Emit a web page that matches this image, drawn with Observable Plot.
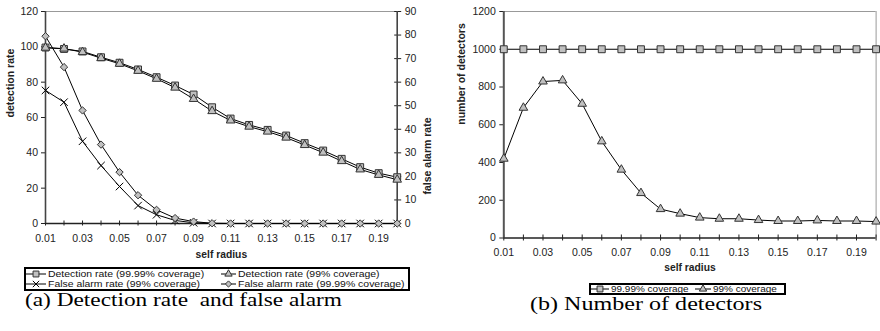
<!DOCTYPE html>
<html>
<head>
<meta charset="utf-8">
<script src="https://cdn.jsdelivr.net/npm/d3@7"></script>
<script src="https://cdn.jsdelivr.net/npm/@observablehq/plot@0.6"></script>
<style>
  html, body { margin: 0; padding: 0; background: #fff; }
  #root { position: relative; width: 880px; height: 331px; overflow: hidden; font-family: "Liberation Sans", Arial, Helvetica, sans-serif; }
  .chart { position: absolute; top: 0; }
  .legend { position: absolute; border: 2px solid #000; background: #fff; box-sizing: border-box; color: #111; }
  .legend .item { position: absolute; display: flex; align-items: center; white-space: nowrap; }
  .legend svg { display: block; margin-right: 1.5px; overflow: visible; }
  .legend span { display: block; transform-origin: 0 50%; }
  .caption { position: absolute; font-family: "Liberation Serif", "Times New Roman", serif; font-size: 19.5px; line-height: 19.5px; white-space: pre; color: #000; transform-origin: 0 50%; }
  svg text { fill: #222; }
</style>
</head>
<body>
<div id="root"></div>
<script>
// ---------------- data ----------------
const radius = [0.01, 0.02, 0.03, 0.04, 0.05, 0.06, 0.07, 0.08, 0.09, 0.10,
                0.11, 0.12, 0.13, 0.14, 0.15, 0.16, 0.17, 0.18, 0.19, 0.20];
const xTickLabels = [0.01, 0.03, 0.05, 0.07, 0.09, 0.11, 0.13, 0.15, 0.17, 0.19];

// (a) detection rate (left axis, %) and false alarm rate (right axis, %)
const detectionRate9999 = [99.6, 98.8, 97.4, 94.1, 91.0, 87.2, 82.8, 78.1, 73.0, 65.8,
                           59.4, 55.8, 53.0, 49.8, 45.5, 41.3, 36.6, 31.9, 28.5, 26.2];
const detectionRate99   = [99.5, 99.0, 97.0, 93.6, 90.4, 86.4, 81.9, 76.9, 70.5, 63.6,
                           58.3, 54.8, 52.0, 48.6, 44.4, 40.1, 35.3, 30.6, 27.5, 24.8];
const falseAlarm99      = [56.5, 51.5, 34.9, 24.6, 15.7, 7.6, 3.7, 1.3, 0.3, 0,
                           0, 0, 0, 0, 0, 0, 0, 0, 0, 0];
const falseAlarm9999    = [79.5, 66.4, 48.0, 33.5, 21.8, 12.0, 5.8, 2.3, 0.8, 0.1,
                           0, 0, 0, 0, 0, 0, 0, 0, 0, 0];
const detectionTicks = [0, 20, 40, 60, 80, 100, 120];
const alarmTicks = [0, 10, 20, 30, 40, 50, 60, 70, 80, 90];

// (b) number of detectors
const detectors9999 = [1000, 1000, 1000, 1000, 1000, 1000, 1000, 1000, 1000, 1000,
                       1000, 1000, 1000, 1000, 1000, 1000, 1000, 1000, 1000, 1000];
const detectors99   = [420, 690, 829, 835, 711, 512, 362, 238, 153, 129,
                       108, 102, 102, 95, 90, 90, 93, 90, 90, 87];
const detectorTicks = [0, 200, 400, 600, 800, 1000, 1200];

const legendA = ["Detection rate (99.99% coverage)", "Detection rate (99% coverage)",
                 "False alarm rate (99% coverage)", "False alarm rate (99.99% coverage)"];
const legendB = ["99.99% coverage", "99% coverage"];
const captionA = "(a) Detection rate  and false alarm";
const captionB = "(b) Number of detectors";

// ---------------- styling ----------------
const font = '"Liberation Sans", Arial, Helvetica, sans-serif';
const mFill = "#c0c0c0", mStroke = "#333";
const k = 120 / 90; // false-alarm axis -> detection axis
const fmt2 = d3.format(".2f");

const rowsA = radius.map((r, i) => ({r, d9999: detectionRate9999[i], d99: detectionRate99[i], f99: falseAlarm99[i], f9999: falseAlarm9999[i]}));
const rowsB = radius.map((r, i) => ({r, n9999: detectors9999[i], n99: detectors99[i]}));

const sym = {
  square:   {symbol: "square",   r: 3.9, fill: mFill, stroke: mStroke, strokeWidth: 1},
  triangle: {symbol: "triangle", r: 3.2, fill: mFill, stroke: mStroke, strokeWidth: 1},
  times:    {symbol: "times",    r: 3.5, fill: "none", stroke: "#000", strokeWidth: 1},
  diamond:  {symbol: "diamond2", r: 3.3, fill: mFill, stroke: mStroke, strokeWidth: 1}
};

const root = document.getElementById("root");

// ---------------- chart (a) ----------------
const chartA = Plot.plot({
  width: 440, height: 262,
  marginLeft: 45, marginRight: 43.3, marginTop: 11, marginBottom: 39,
  x: {domain: [0.01, 0.20]},
  y: {domain: [0, 120]},
  style: {fontFamily: font, fontSize: "10.5px", color: "#222", background: "transparent", overflow: "visible"},
  marks: [
    Plot.ruleY([120], {stroke: "#999", strokeWidth: 1}),
    Plot.axisY(detectionTicks, {anchor: "left", tickSize: 4, tickPadding: 3.5, tickFormat: d => String(d), label: null}),
    Plot.axisY(alarmTicks.map(v => v * k), {anchor: "right", tickSize: 7, dx: -3.5, tickPadding: 4, tickFormat: v => String(Math.round(v / k)), label: null}),
    Plot.axisX(radius, {tickSize: 5, dy: -2.5, tickFormat: () => "", label: null}),
    Plot.axisX(xTickLabels, {tickSize: 0, tickPadding: 11, tickFormat: fmt2, label: null}),
    Plot.ruleX([0.01], {stroke: "#444", strokeWidth: 1.6}),
    Plot.ruleX([0.20], {stroke: "#444", strokeWidth: 1.6}),
    Plot.ruleY([0], {stroke: "#222", strokeWidth: 1.6}),
    Plot.line(rowsA, {x: "r", y: "d9999", stroke: "#000", strokeWidth: 1}),
    Plot.line(rowsA, {x: "r", y: "d99", stroke: "#000", strokeWidth: 1}),
    Plot.line(rowsA, {x: "r", y: d => d.f99 * k, stroke: "#000", strokeWidth: 1}),
    Plot.line(rowsA, {x: "r", y: d => d.f9999 * k, stroke: "#000", strokeWidth: 1}),
    Plot.dot(rowsA, {x: "r", y: "d9999", ...sym.square}),
    Plot.dot(rowsA, {x: "r", y: "d99", ...sym.triangle}),
    Plot.dot(rowsA, {x: "r", y: d => d.f99 * k, ...sym.times}),
    Plot.dot(rowsA, {x: "r", y: d => d.f9999 * k, ...sym.diamond}),
    Plot.text(["detection rate"], {frameAnchor: "left", dx: -35, rotate: -90, text: d => d, fontWeight: "bold", fontSize: 10.5}),
    Plot.text(["false alarm rate"], {frameAnchor: "right", dx: 30, rotate: -90, text: d => d, fontWeight: "bold", fontSize: 10.5}),
    Plot.text(["self radius"], {frameAnchor: "bottom", dy: 34.5, text: d => d, fontWeight: "bold", fontSize: 10.3})
  ]
});
chartA.classList.add("chart");
chartA.style.left = "0px";
root.appendChild(chartA);

// ---------------- chart (b) ----------------
const chartB = Plot.plot({
  width: 440, height: 275,
  marginLeft: 63.3, marginRight: 4.4, marginTop: 11, marginBottom: 37.5,
  x: {domain: [0.01, 0.20]},
  y: {domain: [0, 1200]},
  style: {fontFamily: font, fontSize: "10.5px", color: "#222", background: "transparent", overflow: "visible"},
  marks: [
    Plot.ruleY([1200], {stroke: "#999", strokeWidth: 1}),
    Plot.ruleX([0.20], {stroke: "#999", strokeWidth: 1}),
    Plot.axisY(detectorTicks, {anchor: "left", tickSize: 4, tickPadding: 4, tickFormat: d => String(d), label: null}),
    Plot.axisX(radius, {tickSize: 6, dy: -3, tickFormat: () => "", label: null}),
    Plot.axisX(xTickLabels, {tickSize: 0, tickPadding: 11, tickFormat: fmt2, label: null}),
    Plot.ruleX([0.01], {stroke: "#555", strokeWidth: 2}),
    Plot.ruleY([0], {stroke: "#222", strokeWidth: 1.6}),
    Plot.line(rowsB, {x: "r", y: "n9999", stroke: "#000", strokeWidth: 1}),
    Plot.line(rowsB, {x: "r", y: "n99", stroke: "#000", strokeWidth: 1}),
    Plot.dot(rowsB, {x: "r", y: "n9999", ...sym.square}),
    Plot.dot(rowsB, {x: "r", y: "n99", ...sym.triangle}),
    Plot.text(["number of detectors"], {frameAnchor: "left", dx: -42, rotate: -90, text: d => d, fontWeight: "bold", fontSize: 10.5}),
    Plot.text(["self radius"], {frameAnchor: "bottom", dy: 32.5, text: d => d, fontWeight: "bold", fontSize: 10.3})
  ]
});
chartB.classList.add("chart");
chartB.style.left = "440px";
root.appendChild(chartB);

// ---------------- legends ----------------
function legendSymbol(name, width) {
  const s = sym[name];
  const svg = d3.create("svg").attr("width", width).attr("height", 8).attr("viewBox", `0 0 ${width} 8`);
  svg.append("line").attr("x1", 0).attr("x2", width).attr("y1", 4).attr("y2", 4).attr("stroke", "#000").attr("stroke-width", 1);
  const type = {square: d3.symbolSquare, triangle: d3.symbolTriangle, times: d3.symbolTimes, diamond2: d3.symbolDiamond2}[s.symbol];
  const size = Math.PI * (s.r * 0.85) ** 2;
  svg.append("path").attr("d", d3.symbol(type, size)()).attr("transform", `translate(${width / 2},4)`)
    .attr("fill", s.fill).attr("stroke", s.stroke).attr("stroke-width", 1);
  return svg.node();
}
function makeLegend(box, items, fontSize, lineHeight, stretch) {
  const el = document.createElement("div");
  el.className = "legend";
  Object.assign(el.style, {left: box.x + "px", top: box.y + "px", width: box.w + "px", height: box.h + "px", fontSize: fontSize + "px", lineHeight: lineHeight + "px"});
  for (const it of items) {
    const d = document.createElement("div");
    d.className = "item";
    d.style.left = it.x + "px";
    d.style.top = it.y + "px";
    d.style.height = lineHeight + "px";
    d.appendChild(legendSymbol(it.symbol, it.sw));
    const t = document.createElement("span");
    t.textContent = it.label;
    t.style.transform = `scaleX(${stretch})`;
    d.appendChild(t);
    el.appendChild(d);
  }
  root.appendChild(el);
}
makeLegend({x: 24, y: 267, w: 386, h: 24}, [
  {symbol: "square",   label: legendA[0], x: 0,   y: 0,  sw: 20},
  {symbol: "triangle", label: legendA[1], x: 195, y: 0,  sw: 15},
  {symbol: "times",    label: legendA[2], x: 0,   y: 10, sw: 20},
  {symbol: "diamond",  label: legendA[3], x: 195, y: 10, sw: 15}
], 9, 10, 1.16);
makeLegend({x: 589, y: 282.5, w: 197, h: 12}, [
  {symbol: "square",   label: legendB[0], x: 0,   y: 0, sw: 18},
  {symbol: "triangle", label: legendB[1], x: 104, y: 0, sw: 16}
], 9.5, 8, 1.05);

// ---------------- captions ----------------
function caption(text, x, y, targetWidth) {
  const c = document.createElement("div");
  c.className = "caption";
  c.style.left = x + "px";
  c.style.top = y + "px";
  c.textContent = text;
  root.appendChild(c);
  const w = c.getBoundingClientRect().width;
  if (w > 0) c.style.transform = `scaleX(${targetWidth / w})`;
}
caption(captionA, 25, 289.8, 317);
caption(captionB, 530, 294, 232);
</script>
</body>
</html>
